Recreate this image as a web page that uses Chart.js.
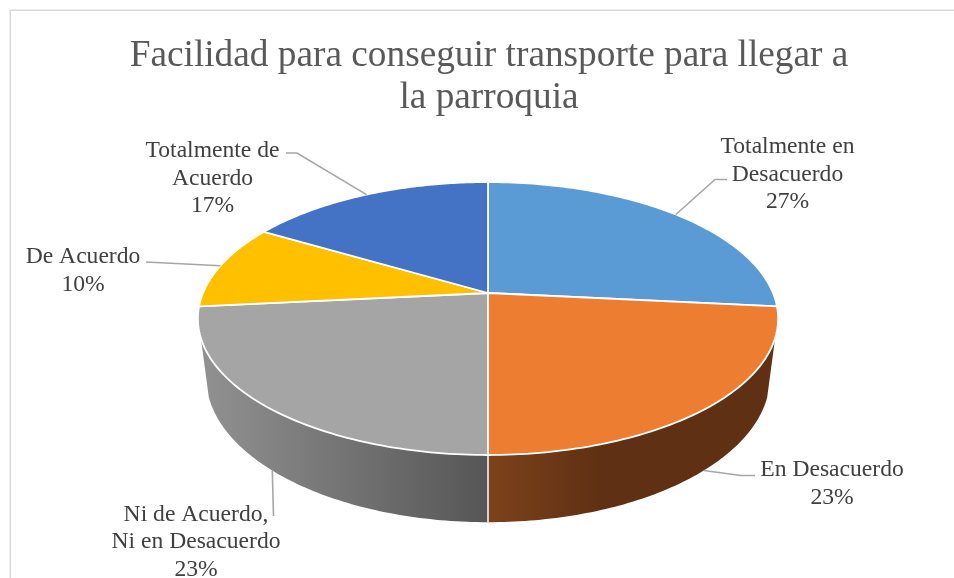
<!DOCTYPE html>
<html>
<head>
<meta charset="utf-8">
<title>Facilidad para conseguir transporte</title>
<script src="https://cdn.jsdelivr.net/npm/chart.js@4"></script>
<style>
  html, body { margin: 0; padding: 0; background: #fff; overflow: hidden; }
  canvas { display: block; }
</style>
</head>
<body>
<canvas id="myChart" width="954" height="578"></canvas>
<script>
const titleLines = ['Facilidad para conseguir transporte para llegar a', 'la parroquia'];
const categories = ['Totalmente en Desacuerdo', 'En Desacuerdo', 'Ni de Acuerdo, Ni en Desacuerdo', 'De Acuerdo', 'Totalmente de Acuerdo'];
const categoryLines = [['Totalmente en', 'Desacuerdo'], ['En Desacuerdo'], ['Ni de Acuerdo,', 'Ni en Desacuerdo'], ['De Acuerdo'], ['Totalmente de', 'Acuerdo']];
const percentages = [26.6, 23.4, 23.4, 10.1, 16.5];

const sliceColors = ['#5b9bd5', '#ed7d31', '#a5a5a5', '#ffc000', '#4472c4'];

// perspective of the disc: top rim and bottom rim of the pie
const topRim = { cx: 488, cy: 293, a: 285, b: 131.7, p: 0.187 };
const bottomRim = { cx: 488, cy: 350, a: 277, b: 140, p: 0.187 };
const wallStartAngle = 0.326;

// side wall shading, only the two front slices show a wall
const wallStyles = {
    1: { x0: 488, x1: 600, stops: ['#7d421b', '#5f3013'] },
    2: { x0: 203, x1: 488, stops: ['#919191', '#565656'] }
};

// where each label sits and the elbow of its leader line
const labelLayout = [
    { x: 787.5, y: 153, leader: [[715, 179.5], [727, 179.5]] },
    { x: 832, y: 476, leader: [[741, 475.5], [755, 475.5]] },
    { x: 196, y: 520.5, leader: [[273.5, 516]] },
    { x: 83, y: 263, leader: [[146, 262]] },
    { x: 212.5, y: 157, leader: [[297, 153], [286, 153]] }
];

function project(rim, angle) {
    const u = Math.cos(angle);
    const v = Math.sin(angle);
    const w = 1 - rim.p * v;
    return [rim.cx + rim.a * u / w, rim.cy + rim.b * v / w];
}

function traceRim(ctx, rim, from, to) {
    const steps = 80;
    for (let i = 0; i <= steps; i++) {
        const pt = project(rim, from + (to - from) * i / steps);
        ctx.lineTo(pt[0], pt[1]);
    }
}

const pie3d = {
    id: 'pie3d',
    beforeDraw(chart) {
        // chart frame, only left and top show in the picture
        const ctx = chart.ctx;
        ctx.save();
        ctx.strokeStyle = '#d9d9d9';
        ctx.lineWidth = 1.5;
        ctx.beginPath();
        ctx.moveTo(10.25, 578);
        ctx.lineTo(10.25, 10.25);
        ctx.lineTo(954, 10.25);
        ctx.stroke();
        ctx.restore();
    },
    beforeDatasetDraw(chart) {
        const ctx = chart.ctx;
        const arcs = chart.getDatasetMeta(0).data;
        ctx.save();

        // walls first
        arcs.forEach((arc, i) => {
            const from = Math.max(arc.startAngle, wallStartAngle);
            const to = Math.min(arc.endAngle, Math.PI - wallStartAngle);
            if (to <= from || !wallStyles[i]) return;
            const style = wallStyles[i];
            const grad = ctx.createLinearGradient(style.x0, 0, style.x1, 0);
            grad.addColorStop(0, style.stops[0]);
            grad.addColorStop(1, style.stops[1]);
            ctx.beginPath();
            traceRim(ctx, topRim, from, to);
            traceRim(ctx, bottomRim, to, from);
            ctx.closePath();
            ctx.fillStyle = grad;
            ctx.fill();
        });

        // divider between the two walls
        arcs.forEach((arc) => {
            if (arc.startAngle <= wallStartAngle || arc.startAngle >= Math.PI - wallStartAngle) return;
            const a = project(topRim, arc.startAngle);
            const b = project(bottomRim, arc.startAngle);
            ctx.beginPath();
            ctx.moveTo(a[0], a[1]);
            ctx.lineTo(b[0], b[1]);
            ctx.strokeStyle = '#ffffff';
            ctx.lineWidth = 1.5;
            ctx.stroke();
        });

        // top faces
        arcs.forEach((arc) => {
            ctx.beginPath();
            ctx.moveTo(topRim.cx, topRim.cy);
            traceRim(ctx, topRim, arc.startAngle, arc.endAngle);
            ctx.closePath();
            ctx.fillStyle = arc.options.backgroundColor;
            ctx.fill();
            ctx.strokeStyle = arc.options.borderColor;
            ctx.lineWidth = arc.options.borderWidth;
            ctx.lineJoin = 'round';
            ctx.stroke();
        });

        ctx.restore();
        return false;
    },
    afterDatasetsDraw(chart) {
        const ctx = chart.ctx;
        const arcs = chart.getDatasetMeta(0).data;
        ctx.save();

        arcs.forEach((arc, i) => {
            const mid = (arc.startAngle + arc.endAngle) / 2;
            // front slices anchor on the lower rim, back slices on the top one
            const anchor = project(Math.sin(mid) > 0.5 ? bottomRim : topRim, mid);
            const place = labelLayout[i];

            ctx.beginPath();
            ctx.moveTo(anchor[0], anchor[1]);
            place.leader.forEach((pt) => ctx.lineTo(pt[0], pt[1]));
            ctx.strokeStyle = '#a6a6a6';
            ctx.lineWidth = 1.6;
            ctx.stroke();

            const lines = categoryLines[i].concat(Math.round(percentages[i]) + '%');
            ctx.fillStyle = '#404040';
            ctx.font = '23.6px "Liberation Serif"';
            ctx.textAlign = 'center';
            ctx.textBaseline = 'alphabetic';
            lines.forEach((line, n) => ctx.fillText(line, place.x, place.y + n * 27.6));
        });

        ctx.restore();
    }
};

const ctx = document.getElementById('myChart').getContext('2d');
const myChart = new Chart(ctx, {
    type: 'pie',
    data: {
        labels: categories,
        datasets: [{
            data: percentages,
            backgroundColor: sliceColors,
            borderColor: '#ffffff',
            borderWidth: 1.8
        }]
    },
    options: {
        responsive: false,
        animation: false,
        layout: { padding: { left: 24 } },
        plugins: {
            legend: { display: false },
            tooltip: { enabled: false },
            title: {
                display: true,
                text: titleLines,
                color: '#595959',
                font: { family: '"Liberation Serif"', size: 37.3, weight: 'normal', lineHeight: 1.13 },
                padding: { top: 35, bottom: 0 }
            }
        }
    },
    plugins: [pie3d]
});
</script>
</body>
</html>
